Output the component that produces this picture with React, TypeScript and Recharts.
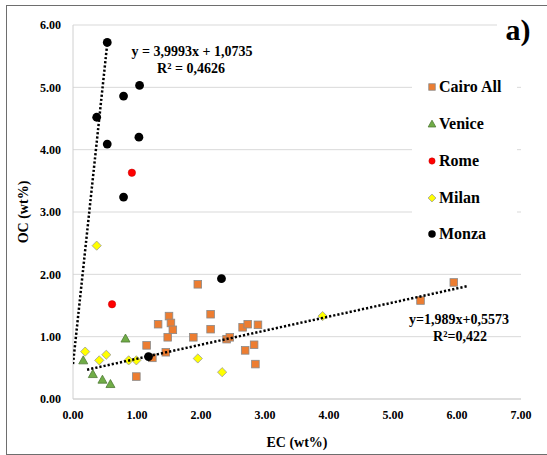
import React from 'react';
import { ScatterChart, Scatter, XAxis, YAxis, CartesianGrid, Legend, Label } from 'recharts';

const serif = '"Liberation Serif", "Times New Roman", serif';

const seriesNames = ['Cairo All', 'Venice', 'Rome', 'Milan', 'Monza'];

// EC / OC (wt%) per site
const cairoEC = [1.95, 5.95, 5.43, 1.33, 1.5, 1.53, 1.56, 1.48, 1.15, 1.24, 1.45, 0.99, 1.88, 2.15, 2.15, 2.4, 2.45, 2.65, 2.73, 2.89, 2.69, 2.83, 2.85];
const cairoOC = [1.84, 1.87, 1.58, 1.2, 1.33, 1.22, 1.11, 0.99, 0.86, 0.66, 0.75, 0.36, 0.99, 1.36, 1.12, 0.96, 0.99, 1.15, 1.2, 1.19, 0.78, 0.87, 0.56];
const veniceEC = [0.16, 0.31, 0.46, 0.585, 0.82];
const veniceOC = [0.62, 0.4, 0.31, 0.24, 0.97];
const romeEC = [0.92, 0.61];
const romeOC = [3.63, 1.52];
const milanEC = [0.37, 0.19, 0.41, 0.52, 0.87, 0.99, 1.95, 2.33, 3.9];
const milanOC = [2.46, 0.76, 0.62, 0.71, 0.62, 0.62, 0.65, 0.43, 1.33];
const monzaEC = [0.535, 1.04, 0.79, 0.37, 0.535, 1.03, 0.79, 2.32, 1.18];
const monzaOC = [5.72, 5.03, 4.86, 4.52, 4.09, 4.2, 3.24, 1.93, 0.68];

// trendlines as drawn in the figure
const monzaTrendEC = [0, 0.535];
const monzaTrendOC = [0.56, 5.7];
const cairoTrendEC = [0.22, 6.16];
const cairoTrendOC = [0.47, 1.81];

const xTicks = [0, 1, 2, 3, 4, 5, 6, 7];
const yTicks = [0, 1, 2, 3, 4, 5, 6];

const zip = (xs: number[], ys: number[]) => xs.map((x, i) => ({ x, y: ys[i] }));

const markers: Record<string, (cx: number, cy: number, s?: number) => React.ReactElement> = {
  'Cairo All': (cx, cy, s = 1) => (
    <rect x={cx - 3.8 * s} y={cy - 3.8 * s} width={7.6 * s} height={7.6 * s} fill="#ED7D31" stroke="#8a8a8a" strokeWidth={0.8} />
  ),
  Venice: (cx, cy, s = 1) => (
    <polygon
      points={`${cx},${cy - 4.5 * s} ${cx + 4.5 * s},${cy + 3.5 * s} ${cx - 4.5 * s},${cy + 3.5 * s}`}
      fill="#70AD47"
      stroke="#4f7a35"
      strokeWidth={0.8}
    />
  ),
  Rome: (cx, cy, s = 1) => <circle cx={cx} cy={cy} r={3.7 * s} fill="#FF0000" stroke="#c00000" strokeWidth={0.5} />,
  Milan: (cx, cy, s = 1) => (
    <polygon
      points={`${cx},${cy - 4.6 * s} ${cx + 4.6 * s},${cy} ${cx},${cy + 4.6 * s} ${cx - 4.6 * s},${cy}`}
      fill="#FFFF00"
      stroke="#9a9a9a"
      strokeWidth={0.8}
    />
  ),
  Monza: (cx, cy, s = 1) => <circle cx={cx} cy={cy} r={4.4 * s} fill="#000" />,
};

const shapeFor = (name: string) => (p: any) => <g>{markers[name](p.cx, p.cy)}</g>;

const LegendBox = (props: any) => {
  const present = new Set((props.payload || []).map((e: any) => e.value));
  const items = seriesNames.filter((n) => present.has(n));
  return (
    <div style={{ background: '#fff', width: 105 }}>
      {items.map((name) => (
        <div key={name} style={{ display: 'flex', alignItems: 'center', height: 36.75 }}>
          <svg width={12} height={12} style={{ marginLeft: 14, marginRight: 1 }}>
            {markers[name](6, 6, 0.85)}
          </svg>
          <span style={{ fontFamily: serif, fontWeight: 'bold', fontSize: 16, color: '#000' }}>{name}</span>
        </div>
      ))}
    </div>
  );
};

const tickStyle = { fontFamily: serif, fontWeight: 'bold', fontSize: 12, fill: '#000' } as const;
const eqStyle: React.CSSProperties = {
  position: 'absolute',
  fontFamily: serif,
  fontWeight: 'bold',
  fontSize: 14,
  lineHeight: '16px',
  textAlign: 'center',
  width: 160,
  color: '#000',
  whiteSpace: 'nowrap',
};

export default function App() {
  return (
    <div style={{ position: 'absolute', left: 0, top: 0, width: 547, height: 455, background: '#fff' }}>
      <div
        style={{
          position: 'absolute',
          left: 6,
          top: 5,
          width: 560,
          height: 448,
          borderLeft: '1px solid #6e6e6e',
          borderTop: '1px solid #6e6e6e',
          borderBottom: '1px solid #6e6e6e',
        }}
      />
      <ScatterChart width={547} height={455} margin={{ top: 25, right: 26, left: 0, bottom: 0 }}>
        <CartesianGrid vertical={false} stroke="#d9d9d9" />
        <XAxis
          type="number"
          dataKey="x"
          domain={[0, 7]}
          ticks={xTicks}
          tickFormatter={(v: number) => v.toFixed(2)}
          tick={tickStyle}
          tickLine={false}
          tickMargin={5}
          axisLine={{ stroke: '#d0d0d0' }}
          height={56}
          allowDataOverflow
        >
          <Label value="EC (wt%)" position="insideBottom" offset={8} style={{ fontFamily: serif, fontWeight: 'bold', fontSize: 14, fill: '#000' }} />
        </XAxis>
        <YAxis
          type="number"
          dataKey="y"
          domain={[0, 6]}
          ticks={yTicks}
          tickFormatter={(v: number) => v.toFixed(2)}
          tick={tickStyle}
          tickLine={false}
          tickMargin={6}
          axisLine={{ stroke: '#d0d0d0' }}
          width={73}
          allowDataOverflow
        >
          <Label
            value="OC (wt%)"
            angle={-90}
            position="insideLeft"
            offset={23}
            style={{ fontFamily: serif, fontWeight: 'bold', fontSize: 14, fill: '#000', textAnchor: 'middle' }}
          />
        </YAxis>
        <Legend
          layout="vertical"
          align="center"
          verticalAlign="middle"
          content={LegendBox}
          wrapperStyle={{ left: 412, top: 69, width: 105 }}
        />
        <Scatter name="Cairo All" data={zip(cairoEC, cairoOC)} shape={shapeFor('Cairo All')} fill="#ED7D31" isAnimationActive={false} />
        <Scatter name="Venice" data={zip(veniceEC, veniceOC)} shape={shapeFor('Venice')} fill="#70AD47" isAnimationActive={false} />
        <Scatter name="Rome" data={zip(romeEC, romeOC)} shape={shapeFor('Rome')} fill="#FF0000" isAnimationActive={false} />
        <Scatter name="Milan" data={zip(milanEC, milanOC)} shape={shapeFor('Milan')} fill="#FFFF00" isAnimationActive={false} />
        <Scatter name="Monza" data={zip(monzaEC, monzaOC)} shape={shapeFor('Monza')} fill="#000" isAnimationActive={false} />
        <Scatter
          name="Monza trend"
          legendType="none"
          data={zip(monzaTrendEC, monzaTrendOC)}
          fill="#000"
          line={{ stroke: '#000', strokeWidth: 2.5, strokeDasharray: '2.2 2' }}
          shape={() => <g />}
          isAnimationActive={false}
        />
        <Scatter
          name="Cairo trend"
          legendType="none"
          data={zip(cairoTrendEC, cairoTrendOC)}
          fill="#000"
          line={{ stroke: '#000', strokeWidth: 2.5, strokeDasharray: '2.2 2' }}
          shape={() => <g />}
          isAnimationActive={false}
        />
      </ScatterChart>
      <div style={{ ...eqStyle, left: 112, top: 44 }}>y = 3,9993x + 1,0735</div>
      <div style={{ ...eqStyle, left: 111, top: 61 }}>R² = 0,4626</div>
      <div style={{ ...eqStyle, left: 379, top: 312 }}>y=1,989x+0,5573</div>
      <div style={{ ...eqStyle, left: 380, top: 329 }}>R²=0,422</div>
      <div
        style={{
          position: 'absolute',
          left: 497,
          top: 15,
          width: 42,
          height: 32,
          background: '#fff',
          fontFamily: serif,
          fontWeight: 'bold',
          fontSize: 30,
          lineHeight: '30px',
          textAlign: 'center',
          color: '#000',
        }}
      >
        a)
      </div>
    </div>
  );
}
